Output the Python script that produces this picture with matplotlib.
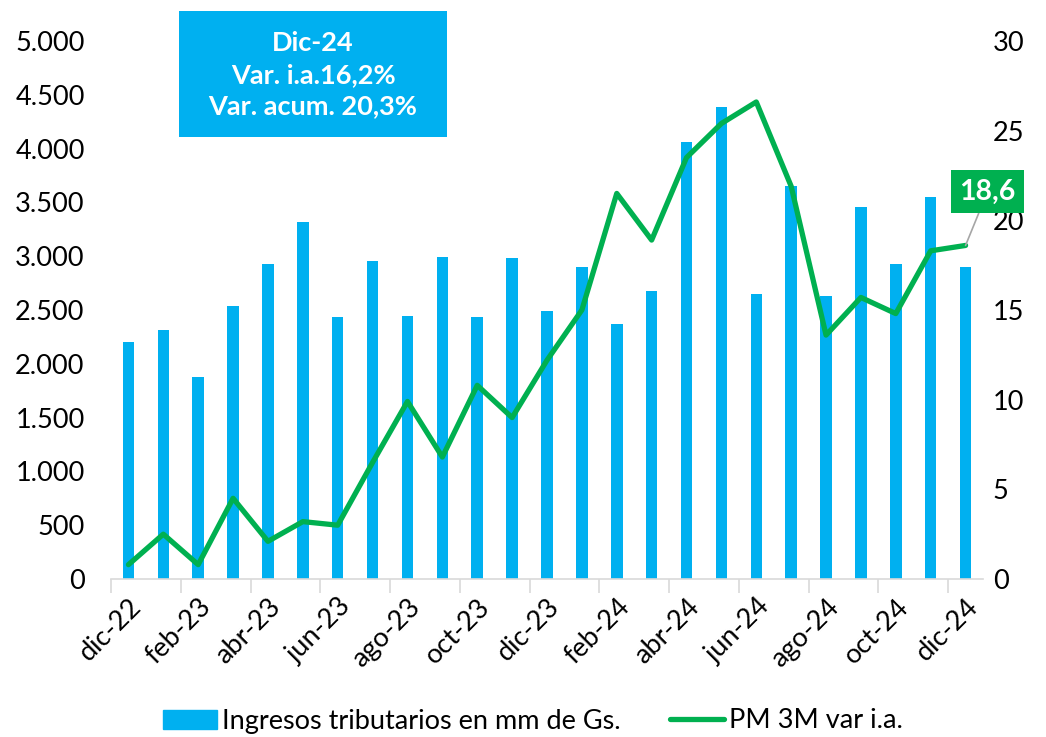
import matplotlib
matplotlib.use("Agg")
import matplotlib.pyplot as plt
from matplotlib.patches import Rectangle
from matplotlib.lines import Line2D
from matplotlib.ticker import FuncFormatter, FixedLocator

plt.rcParams["font.family"] = ["Lato", "DejaVu Sans"]

months = ["dic-22", "ene-23", "feb-23", "mar-23", "abr-23", "may-23", "jun-23",
          "jul-23", "ago-23", "sep-23", "oct-23", "nov-23", "dic-23", "ene-24",
          "feb-24", "mar-24", "abr-24", "may-24", "jun-24", "jul-24", "ago-24",
          "sep-24", "oct-24", "nov-24", "dic-24"]
ingresos = [2200, 2310, 1880, 2540, 2930, 3320, 2435, 2960, 2440, 2995, 2435,
            2985, 2490, 2900, 2370, 2680, 4060, 4390, 2650, 3655, 2630, 3460,
            2930, 3550, 2895]
pm3m = [0.8, 2.5, 0.8, 4.5, 2.1, 3.2, 3.0, 6.5, 9.9, 6.8, 10.8, 9.0, 12.2,
        15.0, 21.5, 18.9, 23.5, 25.4, 26.6, 21.9, 13.6, 15.7, 14.8, 18.3, 18.6]

BLUE = "#00B0F0"
GREEN = "#00B050"
FS = 19.5

fig = plt.figure(figsize=(10.46, 7.37), dpi=100)
ax = fig.add_axes([111 / 1046, 1 - 579 / 737, 872 / 1046, 538 / 737])
ax2 = ax.twinx()

x = list(range(len(months)))
ax.bar(x, ingresos, width=0.33, color=BLUE, zorder=2)
ax2.plot(x, pm3m, color=GREEN, linewidth=3.8, solid_joinstyle="round",
         solid_capstyle="round", zorder=3)

ax.set_xlim(-0.5, len(months) - 0.5)
ax.set_ylim(0, 5000)
ax2.set_ylim(0, 30)
ax.set_yticks(range(0, 5001, 500))
ax2.set_yticks(range(0, 31, 5))
ax.yaxis.set_major_formatter(FuncFormatter(lambda v, p: f"{int(v):,}".replace(",", ".")))

# ticks at category borders every 2 months, labels centred on bars
ax.xaxis.set_major_locator(FixedLocator([i - 0.5 for i in range(0, len(months) + 1, 2)]))
ax.xaxis.set_major_formatter(FuncFormatter(lambda v, p: ""))
ax.xaxis.set_minor_locator(FixedLocator(x[::2]))
ax.set_xticklabels(months[::2], minor=True, rotation=45, ha="right",
                   rotation_mode="anchor", fontsize=FS)
ax.tick_params(axis="x", which="major", length=10, width=1.2, color="#D9D9D9")
ax.tick_params(axis="x", which="minor", length=0, pad=11)
ax.tick_params(axis="y", length=0, labelsize=FS, pad=19)
ax2.tick_params(axis="y", length=0, labelsize=FS, pad=7)

for a in (ax, ax2):
    for side in ("top", "left", "right", "bottom"):
        a.spines[side].set_visible(False)
ax.spines["bottom"].set_visible(True)
ax.spines["bottom"].set_color("#D9D9D9")
ax.spines["bottom"].set_linewidth(1.2)

# label for last point
ax2.annotate("18,6", xy=(x[-1], pm3m[-1]), xytext=(x[-1] + 0.63, 21.6),
             ha="center", va="center", fontsize=20.5, fontweight="bold", color="white",
             bbox=dict(boxstyle="square,pad=0.3", fc=GREEN, ec="none"),
             arrowprops=dict(arrowstyle="-", color="#A6A6A6", lw=1.2,
                             shrinkA=0, shrinkB=0),
             annotation_clip=False, zorder=5)

# info box
fig.patches.append(Rectangle((179 / 1046, 1 - 137 / 737), 268 / 1046, 126 / 737,
                             transform=fig.transFigure, facecolor=BLUE,
                             edgecolor="none", zorder=1))
fig.text(313 / 1046, 1 - 75 / 737, "Dic-24\nVar. i.a.16,2%\nVar. acum. 20,3%",
         ha="center", va="center", fontsize=19.5, fontweight="bold", color="white",
         linespacing=1.38)

handles = [Rectangle((0, 0), 1, 1, color=BLUE),
           Line2D([0], [0], color=GREEN, linewidth=3.8, solid_capstyle="round")]
fig.legend(handles, ["Ingresos tributarios en mm de Gs.", "PM 3M var i.a."],
           loc="center", bbox_to_anchor=(533 / 1046, 1 - 721 / 737), ncol=2,
           frameon=False, fontsize=FS, handlelength=2.0, handletextpad=0.2,
           columnspacing=1.8)

fig.savefig("out.png", dpi=100)
